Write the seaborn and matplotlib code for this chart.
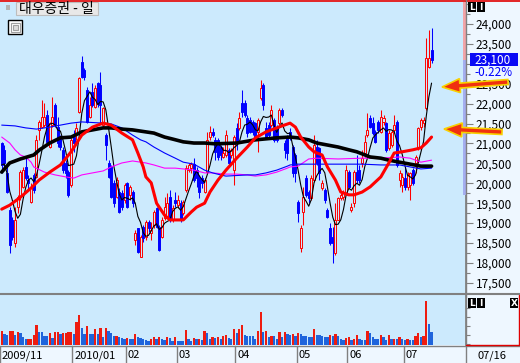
import numpy as np
import pandas as pd
import matplotlib
matplotlib.use('Agg')
import matplotlib.pyplot as plt
import seaborn as sns
from matplotlib.patches import Rectangle, FancyArrow
from matplotlib.ticker import FuncFormatter, MultipleLocator, FixedLocator

# data
title = '대우증권 - 일'
month_labels = ['2009/11', '2010/01', '02', '03', '04', '05', '06', '07']
month_start = [0, 27, 47, 66, 88, 111, 130, 151]
last_date = '07/16'
price_ticks = [17500, 18000, 18500, 19000, 19500, 20000, 20500, 21000,
               21500, 22000, 22500, 23000, 23500, 24000]

opens = [21010, 20840, 20260, 19330, 19080, 18500, 19400, 19650, 19910, 20410,
         20080, 19530, 20210, 20160, 21340, 21410, 21460, 21710, 20910, 21460,
         21960, 21410, 21160, 20840, 20510, 20280, 19960, 21160, 21260, 21790,
         23040, 22840, 22340, 21660, 22290, 21910, 22520, 22470, 21460, 21210,
         20510, 20410, 20010, 19650, 19780, 19760, 19580, 20010, 19710, 19780,
         18580, 18880, 18150, 18900, 18650, 19030, 18750, 18950, 19380, 18900,
         18650, 19130, 19150, 19650, 19080, 19580, 19450, 19500, 19250, 19830,
         20330, 20380, 20480, 20330, 20160, 20130, 19780, 20280, 21160, 21290,
         21090, 21090, 20910, 20660, 20710, 20840, 20710, 20330, 21390, 21390,
         22010, 22010, 21640, 21590, 21540, 21510, 21290, 22140, 22470, 21390,
         21460, 21460, 21590, 21390, 21510, 21840, 21010, 21160, 21290, 20910,
         20710, 19530, 18380, 19280, 20130, 19780, 19630, 20080, 20910, 20890,
         19880, 19830, 19330, 18880, 18650, 18250, 19080, 19630, 19650, 19760,
         20280, 19330, 19500, 20280, 20330, 20510, 20760, 21210, 21640, 21510,
         21290, 21540, 21290, 21540, 21510, 20890, 20960, 21340, 21540, 20080,
         19960, 20130, 19910, 19960, 20330, 20510, 20890, 21410, 21510, 21890,
         22920, 23350]
highs = [21040, 20960, 20460, 19400, 19150, 19400, 19710, 20330, 20410, 20660,
         20210, 20010, 20260, 21210, 21590, 22090, 22010, 21840, 21540, 22170,
         22010, 21660, 21210, 20910, 20580, 20330, 21140, 21340, 21510, 22670,
         23190, 22890, 22420, 22170, 22520, 22470, 22540, 22790, 21910, 21260,
         20580, 20460, 20080, 20160, 19880, 19830, 20010, 20030, 19960, 19830,
         18830, 18880, 18700, 18950, 19080, 19080, 19030, 19330, 19400, 18950,
         19150, 19650, 19760, 19830, 19450, 19780, 19710, 19580, 19580, 20460,
         20510, 20530, 20630, 20410, 20210, 20210, 20130, 21290, 21440, 21390,
         21160, 21140, 20960, 20910, 21340, 20890, 20890, 21210, 21510, 21790,
         22340, 22090, 21710, 21660, 21590, 21540, 21640, 22590, 22520, 21540,
         21540, 21960, 21640, 21460, 21890, 21890, 21090, 21210, 21390, 20960,
         20760, 19580, 18950, 19910, 20210, 19830, 20210, 21210, 21090, 20910,
         20080, 19880, 19380, 19000, 18900, 19500, 19650, 19760, 19830, 20460,
         20330, 19500, 20330, 20710, 20460, 20840, 21210, 21760, 21710, 21660,
         21340, 21590, 21840, 21710, 21540, 21340, 21340, 21710, 21590, 20330,
         20260, 20410, 20280, 20280, 20380, 20710, 21410, 21640, 21660, 23650,
         23850, 23900]
lows = [20260, 20330, 19760, 18250, 18580, 18400, 19250, 19580, 19880, 20080,
        19830, 19500, 19760, 20130, 21090, 21390, 21410, 21010, 20890, 21410,
        21410, 20910, 20840, 20260, 20130, 19650, 19910, 20790, 21090, 21760,
        22640, 22590, 21510, 21640, 21910, 21890, 21910, 21510, 21410, 20580,
        20130, 19630, 19400, 19630, 19250, 19330, 19500, 19380, 19580, 19400,
        18450, 18250, 18150, 18530, 18580, 18780, 18580, 18880, 18880, 18300,
        18630, 19080, 19150, 19030, 19030, 19400, 19380, 19030, 19200, 19780,
        20280, 20260, 20030, 19910, 19630, 19880, 19760, 20260, 21090, 21160,
        20580, 20580, 20580, 20630, 20660, 20460, 20630, 19960, 20840, 21340,
        21660, 21660, 21160, 21260, 21210, 21090, 20790, 22090, 21840, 21140,
        21160, 21410, 21040, 21040, 21460, 21660, 20630, 20580, 21090, 20160,
        20030, 19030, 18280, 18950, 19650, 19500, 19580, 20030, 20460, 20080,
        19830, 19500, 19130, 18450, 18000, 18200, 19080, 19580, 19580, 19710,
        19880, 19280, 19400, 20010, 20010, 20410, 20660, 21160, 21390, 21210,
        21010, 21260, 21260, 21460, 20790, 20840, 20910, 21260, 20410, 19910,
        19780, 19830, 19830, 19580, 19960, 20260, 20840, 21340, 21410, 21840,
        22890, 23020]
closes = [20460, 20510, 19780, 18450, 18650, 19080, 19650, 20280, 20330, 20130,
          20010, 19910, 19830, 21090, 21540, 21660, 21660, 21040, 21510, 21660,
          21460, 21010, 20910, 20330, 20260, 19710, 21090, 21010, 21390, 22640,
          22670, 22670, 21540, 21960, 21960, 22390, 22010, 21960, 21890, 20960,
          20160, 19650, 19500, 20080, 19280, 19400, 19960, 19400, 19910, 19500,
          18750, 18280, 18650, 18630, 19030, 18880, 18830, 19280, 18900, 18330,
          19080, 19400, 19500, 19080, 19380, 19500, 19580, 19080, 19530, 20380,
          20460, 20480, 20080, 20130, 19780, 20010, 20080, 21090, 21290, 21210,
          20790, 20660, 20710, 20760, 21210, 20510, 20840, 21160, 21010, 21640,
          21790, 21710, 21260, 21290, 21290, 21160, 21590, 22390, 21960, 21160,
          21210, 21840, 21090, 21090, 21840, 21710, 20840, 20760, 21140, 20260,
          20260, 19250, 18880, 19650, 19710, 19630, 20130, 20960, 20510, 20260,
          20010, 19580, 19150, 18500, 18500, 19080, 19630, 19710, 19780, 20330,
          19910, 19400, 20280, 20080, 20080, 20630, 21040, 21340, 21410, 21260,
          21040, 21340, 21660, 21640, 20840, 21260, 21290, 21460, 20460, 20260,
          20160, 19910, 20210, 20260, 20010, 20660, 21390, 21590, 21590, 23140,
          23150, 23100]
volume = [42, 33, 30, 42, 43, 30, 40, 35, 23, 17,
          18, 19, 30, 60, 39, 38, 27, 26, 37, 20,
          39, 40, 32, 35, 37, 38, 39, 32, 69, 90,
          52, 33, 57, 33, 32, 48, 33, 51, 25, 51,
          42, 35, 27, 28, 25, 20, 19, 20, 19, 17,
          33, 23, 20, 17, 15, 13, 19, 23, 17, 23,
          17, 16, 23, 22, 13, 23, 12, 12, 11, 45,
          17, 13, 20, 17, 18, 15, 42, 35, 17, 23,
          22, 23, 17, 28, 30, 20, 19, 48, 37, 48,
          61, 30, 28, 27, 26, 17, 43, 99, 40, 42,
          25, 27, 26, 19, 39, 25, 40, 33, 31, 33,
          27, 36, 34, 27, 26, 25, 24, 48, 30, 29,
          27, 25, 24, 30, 28, 34, 27, 17, 15, 22,
          24, 15, 19, 30, 17, 16, 15, 42, 37, 23,
          19, 17, 30, 25, 15, 29, 17, 19, 18, 25,
          17, 15, 17, 16, 15, 27, 36, 25, 27, 132,
          63, 39]

# moving average lines, read at sample days
ma20_idx = [0, 3, 7, 11, 14, 18, 22, 26, 30, 34, 38, 41, 45, 49, 51, 53, 54, 56, 58, 61,
            63, 66, 68, 71, 73, 76, 78, 81, 84, 88, 92, 95, 99, 103, 105, 108, 110, 112, 115, 117,
            120, 122, 125, 127, 130, 132, 135, 138, 142, 145, 147, 150, 154, 157, 159, 161]
ma20_val = [19350, 19450, 19650, 19880, 20080, 20280, 20460, 20790, 21210, 21410,
            21510, 21460, 21260, 21090, 20760, 20410, 20160, 20010, 19500, 19200,
            19080, 19080, 19080, 19280, 19400, 19500, 19780, 20080, 20330, 20630,
            20910, 21140, 21290, 21390, 21440, 21510, 21410, 21160, 20910, 20790,
            20710, 20410, 20080, 19780, 19710, 19710, 19780, 19910, 20160, 20510,
            20760, 20790, 20840, 20890, 21010, 21160]
ma60_idx = [0, 3, 7, 12, 14, 18, 22, 26, 30, 34, 38, 41, 45, 49, 52, 57, 61, 64, 68, 72,
            76, 80, 88, 95, 103, 108, 111, 115, 118, 122, 126, 130, 133, 138, 142, 145, 149, 153, 157, 161]
ma60_val = [20280, 20510, 20610, 20710, 20830, 21010, 21140, 21160, 21290, 21340,
            21390, 21390, 21360, 21340, 21310, 21260, 21160, 21110, 21040, 21010,
            21010, 20990, 21010, 21090, 21140, 21160, 21140, 21090, 21010, 20960,
            20910, 20840, 20790, 20660, 20630, 20580, 20530, 20480, 20430, 20430]
ma120_idx = [0, 5, 9, 13, 18, 22, 26, 30, 38, 41, 45, 49, 52, 54, 57, 61, 65, 68, 72, 76,
             79, 82, 84, 92, 95, 99, 103, 107, 108, 111, 125, 135, 142, 149, 153, 157, 161]
ma120_val = [21460, 21440, 21390, 21360, 21410, 21460, 21510, 21540, 21510, 21490,
             21390, 21210, 21090, 21040, 20910, 20760, 20630, 20530, 20480, 20330,
             20260, 20210, 20180, 20210, 20210, 20260, 20330, 20430, 20460, 20480,
             20480, 20480, 20460, 20460, 20410, 20360, 20380]
ma240_idx = [0, 3, 5, 7, 9, 11, 12, 16, 20, 24, 27, 30, 34, 38, 41, 45, 49, 52, 54, 57,
             61, 65, 68, 72, 76, 79, 84, 88, 92, 95, 99, 103, 107, 108, 111, 115, 118, 126, 135, 142,
             149, 153, 157, 161]
ma240_val = [21160, 21010, 20840, 20710, 20660, 20530, 20410, 20280, 20210, 20160,
             20130, 20210, 20260, 20310, 20410, 20510, 20560, 20530, 20510, 20460,
             20380, 20380, 20360, 20330, 20260, 20260, 20230, 20230, 20210, 20180,
             20210, 20280, 20380, 20410, 20430, 20610, 20630, 20610, 20630, 20630,
             20660, 20630, 20530, 20580]
band_low = 19700

sns.set_theme(style='white')
plt.rcParams['font.family'] = ['Noto Sans CJK KR', 'DejaVu Sans']

W, H = 520, 363
BG = '#CCEAFD'
PANEL = '#EEF7FF'
UP = '#FF0000'
DOWN = '#0000FF'
GRAY = '#808080'

df = pd.DataFrame({'open': opens, 'high': highs, 'low': lows,
                   'close': closes, 'volume': volume})
df['idx'] = np.arange(len(df))
df['up'] = df['close'] >= df['open']
df['ma5'] = df['close'].rolling(5, min_periods=1).mean()

fig = plt.figure(figsize=(W / 100, H / 100), dpi=100)
fig.patch.set_facecolor(PANEL)


def px_axes(x0, y0, x1, y1):
    return fig.add_axes([x0 / W, 1 - y1 / H, (x1 - x0) / W, (y1 - y0) / H])


ax = px_axes(0, 2, 466, 293)
axv = px_axes(0, 295, 466, 345)
over = px_axes(0, 0, W, H)

xlim = (-0.64, 173.9)
for a in (ax, axv):
    a.set_facecolor(BG)
    a.set_xlim(*xlim)
    a.set_xticks([])
    for s in a.spines.values():
        s.set_visible(False)
    a.spines['right'].set_visible(True)
    a.spines['right'].set_color(GRAY)

# candles
col = np.where(df['up'], UP, DOWN)
ax.vlines(df['idx'], df['low'], df['high'], colors=col, lw=0.75, zorder=2)
body_lo = df[['open', 'close']].min(axis=1)
body_h = (df['close'] - df['open']).abs().clip(lower=20)
ax.bar(df['idx'], body_h, bottom=body_lo, width=0.75,
       color=np.where(df['up'], BG, DOWN), edgecolor=col, linewidth=0.7, zorder=3)

# moving averages
sns.lineplot(x=df['idx'], y=df['ma5'], ax=ax, color='black', lw=0.8, zorder=4)
sns.lineplot(x=ma240_idx, y=ma240_val, ax=ax, color='#FF00FF', lw=0.8, zorder=4)
sns.lineplot(x=ma120_idx, y=ma120_val, ax=ax, color='#0000FF', lw=0.8, zorder=4)
sns.lineplot(x=ma60_idx, y=ma60_val, ax=ax, color='black', lw=2.6, zorder=5)
sns.lineplot(x=ma20_idx, y=ma20_val, ax=ax, color='#FF0000', lw=2.2, zorder=6)
ax.set_xlabel('')
ax.set_ylabel('')

last = closes[-1]
ax.set_ylim(17246, 24550)
ax.yaxis.tick_right()
ax.yaxis.set_major_locator(FixedLocator(price_ticks))
ax.yaxis.set_minor_locator(MultipleLocator(250))
# the label under the last-price box is covered in the reference
ax.yaxis.set_major_formatter(FuncFormatter(
    lambda v, p: '' if abs(v - last) < 300 else f'{v:,.0f}'))
ax.tick_params(axis='y', which='major', right=True, direction='out', length=5,
               width=0.8, color=GRAY, labelsize=8.5, pad=2, labelcolor='black')
ax.tick_params(axis='y', which='minor', right=True, direction='out', length=3,
               width=0.8, color=GRAY)

# volume
vol_up = df['volume'].diff().fillna(1) > 0
axv.bar(df['idx'], df['volume'], width=0.85,
        color=np.where(vol_up, '#EE1C10', '#1E64DC'), linewidth=0)
axv.set_ylim(0, 150)
axv.yaxis.tick_right()
axv.set_yticks([4, 31, 58, 85, 112])
axv.set_yticklabels([])
axv.tick_params(axis='y', right=True, direction='out', length=3, width=0.8, color=GRAY)

# overlay in pixel units
over.set_xlim(0, W)
over.set_ylim(H, 0)
over.axis('off')
over.patch.set_visible(False)


def to_px(a, x, y):
    dx, dy = a.transData.transform((x, y))
    return dx, H - dy


over.plot([0, W], [0.6, 0.6], color='#E00000', lw=1.2)
over.plot([0, W], [294, 294], color=GRAY, lw=1.5)
over.plot([0, W], [345.6, 345.6], color=GRAY, lw=1)
over.plot([466, 466], [0, H], color=GRAY, lw=1)
over.plot([466, 519.4, 519.4], [345.4, 345.4, 295], color='#E00000', lw=1)

# date strip
for lab, s in zip(month_labels, month_start):
    bx = 0 if s == 0 else to_px(ax, s - 0.5, 0)[0]
    over.plot([bx, bx], [346, H], color=GRAY, lw=1)
    over.text(bx + 2, 355.5, lab, fontsize=8, ha='left', va='center', color='black')
over.text(478, 355.5, last_date, fontsize=8, ha='left', va='center', color='black')

# price range strip and last price box
_, y_close = to_px(ax, 0, last)
_, y_low = to_px(ax, 0, band_low)
over.add_patch(Rectangle((462.5, 2), 3.2, y_close - 2, fc='#F2A4A8', ec='none'))
over.add_patch(Rectangle((462.5, y_close), 3.2, y_low - y_close, fc='#A4AEF0', ec='none'))
over.add_patch(Rectangle((470, y_close - 6.5), 48, 13, fc='#0A0AF5', ec='none', zorder=5))
over.text(474, y_close, f'{last:,}', color='white', fontsize=8.5,
          ha='left', va='center', zorder=6)
change = (closes[-1] - closes[-2]) / closes[-2] * 100
over.text(474, y_close + 12.5, f'{change:.2f}%', color='#0000FF', fontsize=8.5,
          ha='left', va='center', zorder=6)

# arrows
for tx, ty, dx, dy in [(508, 82, -66, 5), (502, 132, -58, -3)]:
    over.add_patch(FancyArrow(tx, ty, dx, dy, width=5, head_width=14, head_length=18,
                              length_includes_head=True, fc='#F03010', ec='#F8D000',
                              lw=1.2, zorder=7))

# small boxes
for bx, by, t in [(468, 2, 'L'), (477, 2, 'I'), (468, 298, 'L'), (477, 298, 'I'), (510, 298, 'X')]:
    over.add_patch(Rectangle((bx, by), 8, 10, fc='black', ec='none'))
    over.text(bx + 4, by + 5.3, t, color='white', fontsize=6.5, fontweight='bold',
              ha='center', va='center', family='DejaVu Sans')

# title and icons
over.add_patch(Rectangle((6, 5), 4, 4.5, fc='#B4B4B4', ec='none'))
over.add_patch(Rectangle((16, 1.5), 82, 13.5, fc='#E8E8E8', ec='#BDBDBD', lw=0.8))
over.text(19, 8.5, title, fontsize=10, ha='left', va='center', color='black')
over.add_patch(Rectangle((8, 20), 14, 14, fc='white', ec='black', lw=1))
over.add_patch(Rectangle((10.5, 22.5), 9, 9, fc='none', ec='#A0A0A0', lw=0.8))
over.add_patch(Rectangle((12.5, 24.5), 5, 5, fc='#DDDDDD', ec='#A0A0A0', lw=0.8))

fig.savefig('out.png', dpi=100, facecolor=fig.get_facecolor())
